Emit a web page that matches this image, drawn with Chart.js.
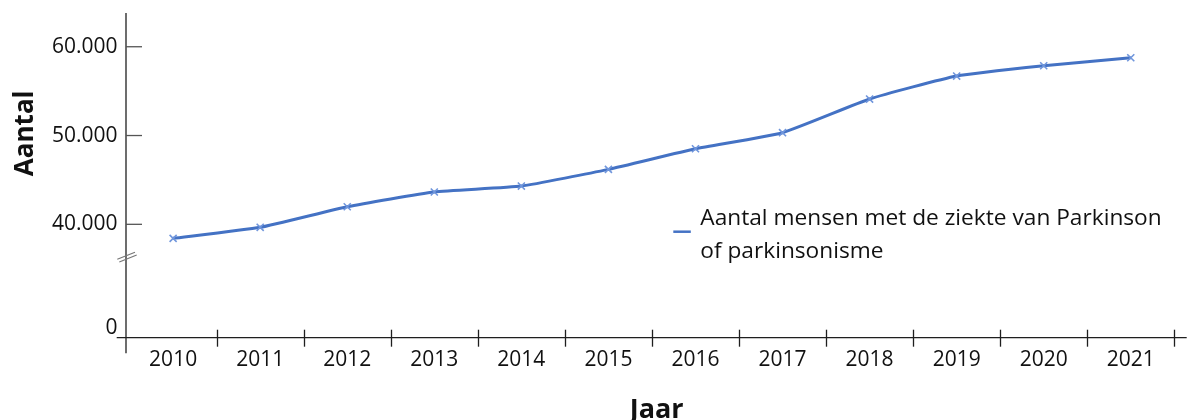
<!DOCTYPE html>
<html>
<head>
<meta charset="utf-8">
<script src="https://cdn.jsdelivr.net/npm/chart.js@4.4.1/dist/chart.umd.min.js"></script>
<style>
  html, body { margin: 0; padding: 0; background: #fff; }
  canvas { display: block; }
</style>
</head>
<body>
<canvas id="c" width="1190" height="420"></canvas>
<script>
// ---- data ----
const years = ['2010', '2011', '2012', '2013', '2014', '2015', '2016', '2017', '2018', '2019', '2020', '2021'];
const aantal = [38420, 39660, 41980, 43640, 44310, 46190, 48510, 50320, 54110, 56700, 57860, 58760];
const yTickValues = [40000, 50000, 60000];
const zeroLabel = '0';
const seriesLabel = ['Aantal mensen met de ziekte van Parkinson', 'of parkinsonisme'];
const xTitle = 'Jaar';
const yTitle = 'Aantal';

// broken axis: the bottom of the axis is shown as "0"
const Y_MIN = 27230;
const Y_MAX = 63800;

const FONT = '"Open Sans", "Noto Sans", "DejaVu Sans", sans-serif';
const fmt = v => String(v).replace(/\B(?=(\d{3})+(?!\d))/g, '.');

const decorPlugin = {
  id: 'decor',
  beforeDatasetsDraw(chart) {
    const ctx = chart.ctx;
    const xs = chart.scales.x, ys = chart.scales.y;
    const { left, right, top, bottom } = chart.chartArea;
    const ax = left - 3.6;
    ctx.save();
    ctx.lineCap = 'butt';
    // y axis line
    ctx.strokeStyle = '#1f1f1f';
    ctx.lineWidth = 1.3;
    ctx.beginPath();
    ctx.moveTo(ax, top);
    ctx.lineTo(ax, bottom + 15.6);
    ctx.stroke();
    // x axis line
    ctx.beginPath();
    ctx.moveTo(ax - 9.3, bottom);
    ctx.lineTo(right + 12.4, bottom);
    ctx.stroke();
    // x ticks at category boundaries
    const n = years.length;
    const step = xs.getPixelForValue(1) - xs.getPixelForValue(0);
    for (let i = 0; i < n; i++) {
      const x = Math.round(xs.getPixelForValue(i) + step / 2) + 0.5;
      ctx.beginPath();
      ctx.moveTo(x, bottom - 8);
      ctx.lineTo(x, bottom + 9);
      ctx.stroke();
    }
    // y ticks (inside)
    ctx.strokeStyle = '#555';
    ctx.lineWidth = 1.3;
    yTickValues.forEach(v => {
      const y = ys.getPixelForValue(v);
      ctx.beginPath();
      ctx.moveTo(ax, y);
      ctx.lineTo(ax + 16, y);
      ctx.stroke();
    });
    // axis break symbol
    const yb = bottom - 80;
    ctx.strokeStyle = '#777';
    ctx.lineWidth = 1.2;
    ctx.beginPath();
    ctx.moveTo(ax - 8.7, yb + 1.6); ctx.lineTo(ax + 9, yb - 5.4);
    ctx.moveTo(ax - 6.7, yb + 4.3); ctx.lineTo(ax + 10.7, yb - 2.7);
    ctx.stroke();
    ctx.restore();
  },
  afterDraw(chart) {
    const ctx = chart.ctx;
    const { left, right, top, bottom } = chart.chartArea;
    const ds = chart.data.datasets[0];
    ctx.save();
    // legend
    const lx = left + 543.7, ly = top + 218.7;
    ctx.strokeStyle = ds.borderColor;
    ctx.lineWidth = 2.5;
    ctx.beginPath();
    ctx.moveTo(lx, ly);
    ctx.lineTo(lx + 17.5, ly);
    ctx.stroke();
    ctx.fillStyle = '#111';
    ctx.font = '22.7px ' + FONT;
    ctx.textAlign = 'left';
    ctx.textBaseline = 'alphabetic';
    const labels = Array.isArray(ds.label) ? ds.label : [ds.label];
    labels.forEach((t, i) => ctx.fillText(t, lx + 27, top + 212 + i * 33));
    // axis titles
    ctx.font = 'bold 27px ' + FONT;
    ctx.textAlign = 'center';
    ctx.fillText(xTitle, (left + right) / 2 + 4.7, 417.6);
    ctx.save();
    ctx.translate(33, top + 120.3);
    ctx.rotate(-Math.PI / 2);
    ctx.font = 'bold 26px ' + FONT;
    ctx.textAlign = 'center';
    ctx.fillText(yTitle, 0, 0);
    ctx.restore();
    ctx.restore();
  }
};

function draw() {
  new Chart(document.getElementById('c'), {
    type: 'line',
    data: {
      labels: years,
      datasets: [{
        label: seriesLabel,
        data: aantal,
        borderColor: '#4472C4',
        backgroundColor: '#4472C4',
        borderWidth: 3,
        tension: 0.15,
        fill: false,
        clip: false,
        pointStyle: 'crossRot',
        pointRadius: 5,
        pointHoverRadius: 5,
        pointBorderColor: '#7096dc',
        pointBorderWidth: 1.6
      }]
    },
    options: {
      responsive: false,
      devicePixelRatio: 1,
      animation: false,
      events: [],
      layout: { padding: { top: 13, right: 15.7, left: 0, bottom: 0 } },
      plugins: { legend: { display: false }, tooltip: { enabled: false }, title: { display: false } },
      scales: {
        x: {
          type: 'category',
          offset: true,
          grid: { display: false, drawTicks: false },
          border: { display: false },
          ticks: {
            padding: 10,
            color: '#111',
            maxRotation: 0,
            autoSkip: false,
            font: { family: FONT, size: 21 }
          },
          afterFit: s => { s.height = 82.3; s.paddingLeft = 0; s.paddingRight = 0; }
        },
        y: {
          type: 'linear',
          min: Y_MIN,
          max: Y_MAX,
          grid: { display: false, drawTicks: false },
          border: { display: false },
          afterBuildTicks: s => { s.ticks = [Y_MIN, ...yTickValues].map(v => ({ value: v })); },
          afterFit: s => { s.width = 129.6; s.paddingTop = 0; s.paddingBottom = 0; },
          ticks: {
            padding: 12,
            color: '#111',
            font: c => ({ family: FONT, size: 21, lineHeight: (c.tick && c.tick.value === Y_MIN) ? 0.95 : 1.2 }),
            callback: v => v === Y_MIN ? [zeroLabel, ''] : fmt(v)
          }
        }
      }
    },
    plugins: [decorPlugin]
  });
}

if (document.fonts && document.fonts.load) {
  Promise.all([
    document.fonts.load('21px "Open Sans"'),
    document.fonts.load('bold 27px "Open Sans"')
  ]).then(draw, draw);
} else {
  draw();
}
</script>
</body>
</html>
